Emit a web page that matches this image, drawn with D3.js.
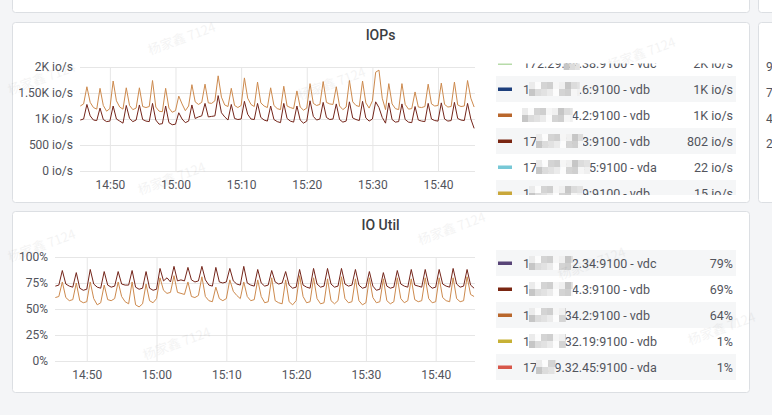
<!DOCTYPE html>
<html>
<head>
<meta charset="utf-8">
<script src="https://cdn.jsdelivr.net/npm/d3@7"></script>
<style>
    html, body { margin: 0; padding: 0; background: #f4f5f7; }
    svg { display: block; font-family: Roboto, "Noto Sans", sans-serif; }
</style>
</head>
<body>
<svg id="chart" width="772" height="415"></svg>
<script>

// dati: un punto ogni 30 secondi a partire dalle 14:45:30
const startTime = new Date(2024, 0, 1, 14, 45, 30);
const stepSec = 30;

const iopsOrange = [
    1250, 1290, 1620, 1320, 1220, 1190, 1590, 1260, 1150, 1200,
    1730, 1350, 1230, 1190, 1600, 1260, 1180, 1210, 1600, 1240,
    1220, 1240, 1740, 1230, 1150, 1140, 1590, 1210, 1130, 1160,
    1440, 1290, 1160, 1250, 1660, 1330, 1280, 1320, 1670, 1310,
    1300, 1350, 1830, 1420, 1270, 1240, 1590, 1260, 1220, 1260,
    1790, 1400, 1280, 1240, 1710, 1310, 1250, 1220, 1600, 1260,
    1200, 1180, 1630, 1250, 1220, 1200, 1540, 1230, 1170, 1210,
    1680, 1300, 1260, 1280, 1720, 1320, 1290, 1280, 1620, 1250,
    1180, 1230, 1740, 1330, 1260, 1240, 1730, 1310, 1210, 1350,
    1900, 1940, 1400, 1180, 1680, 1290, 1200, 1180, 1680, 1280,
    1190, 1200, 1520, 1230, 1220, 1240, 1670, 1290, 1250, 1260,
    1690, 1280, 1230, 1240, 1710, 1270, 1240, 1250, 1740, 1400,
    1230
];

const iopsRed = [
    980, 1000, 1280, 1060, 980, 970, 1210, 990, 950, 960,
    1250, 1000, 960, 920, 1260, 1010, 950, 980, 1270, 990,
    960, 950, 1300, 980, 900, 910, 1250, 930, 890, 900,
    1120, 1000, 930, 960, 1270, 1010, 1040, 1060, 1300, 1040,
    1050, 1060, 1450, 1120, 1040, 980, 1280, 1010, 990, 1000,
    1340, 1090, 1000, 990, 1300, 1030, 980, 960, 1250, 990,
    950, 930, 1300, 1010, 960, 940, 1250, 980, 920, 960,
    1350, 1050, 980, 1000, 1320, 1030, 990, 1000, 1290, 990,
    940, 960, 1330, 1020, 990, 970, 1340, 1020, 960, 1000,
    1330, 1220, 1030, 920, 1310, 990, 940, 950, 1290, 990,
    940, 930, 1240, 980, 960, 950, 1300, 1000, 970, 960,
    1310, 1000, 960, 970, 1320, 1010, 980, 970, 1300, 1000,
    820
];

const utilRed = [
    72, 73, 87, 74, 72, 71, 85, 70, 68, 69,
    88, 74, 71, 70, 86, 73, 71, 72, 86, 74,
    73, 73, 87, 71, 69, 70, 86, 70, 68, 69,
    89, 77, 80, 76, 91, 77, 78, 77, 90, 78,
    76, 77, 91, 78, 73, 72, 90, 76, 75, 76,
    89, 77, 74, 73, 91, 75, 73, 72, 88, 75,
    72, 73, 87, 76, 74, 75, 86, 73, 70, 71,
    88, 73, 71, 70, 89, 74, 71, 72, 89, 74,
    71, 72, 89, 74, 72, 73, 88, 73, 70, 71,
    86, 72, 68, 69, 85, 72, 70, 71, 87, 74,
    72, 71, 88, 73, 72, 71, 88, 73, 70, 71,
    88, 74, 72, 71, 89, 74, 71, 72, 88, 73,
    70
];

const utilOrange = [
    61, 62, 76, 61, 58, 59, 75, 58, 56, 57,
    76, 60, 54, 56, 73, 59, 58, 60, 76, 62,
    57, 55, 76, 54, 52, 55, 74, 58, 56, 60,
    80, 68, 65, 66, 82, 66, 65, 64, 76, 62,
    61, 63, 81, 62, 58, 57, 71, 60, 58, 60,
    78, 67, 63, 60, 76, 62, 58, 59, 78, 62,
    56, 57, 80, 58, 56, 55, 78, 57, 54, 58,
    82, 62, 56, 57, 80, 60, 55, 56, 79, 58,
    55, 58, 81, 60, 56, 57, 79, 58, 54, 56,
    80, 61, 56, 57, 79, 58, 55, 57, 80, 60,
    56, 58, 79, 59, 57, 58, 80, 60, 56, 57,
    80, 61, 58, 57, 80, 60, 57, 58, 81, 64,
    62
];

const iopsTicks = [0, 500, 1000, 1500, 2000];
const iopsTickLabels = ["0 io/s", "500 io/s", "1K io/s", "1.50K io/s", "2K io/s"];
const utilTicks = [0, 25, 50, 75, 100];
const utilTickLabels = ["0%", "25%", "50%", "75%", "100%"];

// legenda IOPs
const iopsLegendNames = [
    "172.29.64.38:9100 - vdc",
    "172.29.32.6:9100 - vdb",
    "172.29.34.2:9100 - vdb",
    "172.29.34.3:9100 - vdb",
    "172.29.32.45:9100 - vda",
    "172.29.32.9:9100 - vdb"
];
const iopsLegendValues = ["2K io/s", "1K io/s", "1K io/s", "802 io/s", "22 io/s", "15 io/s"];
const iopsLegendColors = ["#b7dba9", "#1d3f7c", "#b9672c", "#7a2612", "#77c8d6", "#c9a73a"];
const iopsHidden = [[7, 9], [1, 9], [0, 8], [2, 10], [2, 11], [1, 10]];

// legenda IO Util
const utilLegendNames = [
    "172.29.32.34:9100 - vdc",
    "172.29.34.3:9100 - vdb",
    "172.29.34.2:9100 - vdb",
    "172.29.32.19:9100 - vdb",
    "172.29.32.45:9100 - vda"
];
const utilLegendValues = ["79%", "69%", "64%", "1%", "1%"];
const utilLegendColors = ["#584477", "#7a2612", "#b9672c", "#c7b135", "#d7574a"];
const utilHidden = [[1, 8], [1, 8], [1, 7], [1, 7], [2, 5]];

const lineOrange = "#cd8a4e";
const lineRed = "#74251a";

let svg = d3.select("#chart");
let textColor = "#52545c";

// pannelli di sfondo (anche quelli tagliati ai bordi)
function panelBox(x, y, w, h) {
    svg.append("rect")
        .attr("x", x + 0.5).attr("y", y + 0.5)
        .attr("width", w).attr("height", h)
        .attr("rx", 3)
        .attr("fill", "#ffffff")
        .attr("stroke", "#dcdfe3");
}
panelBox(12, -20, 737, 32);
panelBox(758, -20, 40, 32);
panelBox(12, 22, 737, 180);
panelBox(758, 22, 40, 180);
panelBox(12, 211, 737, 181);

// etichette del pannello a destra (tagliato dal bordo della finestra, come nell'originale)
["9", "7", "4", "2"].forEach((t, i) => {
    svg.append("text")
        .attr("x", 766).attr("y", 71 + i * 25.8)
        .attr("fill", textColor)
        .style("font-size", "12px")
        .text(t);
});

let domain = [new Date(2024, 0, 1, 14, 45, 27), new Date(2024, 0, 1, 15, 45, 38)];

// Funzione per disegnare un pannello con grafico e legenda
function drawPanel(cfg) {
    let g = svg.append("g");

    g.append("text")
        .attr("x", 380.5).attr("y", cfg.titleY)
        .attr("text-anchor", "middle")
        .attr("fill", "#3b3d42")
        .style("font-size", "14px")
        .style("font-weight", 500)
        .text(cfg.title);

    let x = d3.scaleTime().domain(domain).range([cfg.x0, cfg.x1]);
    let y = d3.scaleLinear().domain([cfg.ticks[0], cfg.ticks[cfg.ticks.length - 1]]).range([cfg.y0, cfg.y1]);

    // griglia orizzontale + etichette asse y
    let yAxis = d3.axisLeft(y)
        .tickValues(cfg.ticks)
        .tickFormat((d, i) => cfg.tickLabels[i])
        .tickSize(-(cfg.x1 - cfg.x0))
        .tickPadding(7);
    let yg = g.append("g").attr("transform", `translate(${cfg.x0},0)`).call(yAxis);
    yg.select(".domain").remove();
    yg.selectAll("line").attr("stroke", "#e6e6e6");
    yg.selectAll("text").attr("fill", textColor).style("font-size", "12px").style("font-family", "Roboto");

    // griglia verticale + etichette asse x
    let xAxis = d3.axisBottom(x)
        .ticks(d3.timeMinute.every(10))
        .tickFormat(d3.timeFormat("%H:%M"))
        .tickSize(-(cfg.y0 - cfg.y1))
        .tickPadding(9);
    let xg = g.append("g").attr("transform", `translate(0,${cfg.y0})`).call(xAxis);
    xg.select(".domain").remove();
    xg.selectAll("line").attr("stroke", "#e6e6e6");
    xg.selectAll("text").attr("fill", textColor).style("font-size", "12px").style("font-family", "Roboto");

    let clipId = "clip-" + cfg.title.replace(/\s/g, "");
    svg.append("clipPath").attr("id", clipId)
        .append("rect")
        .attr("x", cfg.x0).attr("y", cfg.y1 - 5)
        .attr("width", cfg.x1 - cfg.x0).attr("height", cfg.y0 - cfg.y1 + 5);

    let line = d3.line()
        .x((d, i) => x(new Date(startTime.getTime() + i * stepSec * 1000)))
        .y((d) => y(d));

    cfg.series.forEach((s) => {
        g.append("path")
            .datum(s.values)
            .attr("clip-path", `url(#${clipId})`)
            .attr("fill", "none")
            .attr("stroke", s.color)
            .attr("stroke-width", 1)
            .attr("stroke-linejoin", "round")
            .attr("d", line);
    });

    // legenda
    let legClip = clipId + "-leg";
    svg.append("clipPath").attr("id", legClip)
        .append("rect")
        .attr("x", 490).attr("y", cfg.legTop)
        .attr("width", 250).attr("height", cfg.legBottom - cfg.legTop);
    let leg = g.append("g").attr("clip-path", `url(#${legClip})`);

    cfg.legNames.forEach((name, i) => {
        let cy = cfg.legFirst + i * 26;
        if (i % 2 === cfg.shadeOdd) {
            leg.append("rect")
                .attr("x", 496).attr("y", cy - 13)
                .attr("width", 240).attr("height", 26)
                .attr("fill", "#f5f6f7");
        }
        leg.append("rect")
            .attr("x", 498).attr("y", cy - 1.5)
            .attr("width", 14).attr("height", 3.5)
            .attr("fill", cfg.legColors[i]);
        let t = leg.append("text")
            .attr("x", 523).attr("y", cy + 4.5)
            .attr("fill", textColor)
            .style("font-size", "12.5px")
            .text(name);
        leg.append("text")
            .attr("x", 733).attr("y", cy + 4.5)
            .attr("text-anchor", "end")
            .attr("fill", textColor)
            .style("font-size", "12.5px")
            .text(cfg.legValues[i]);
        pixelate(leg, t.node(), cfg.hidden[i][0], cfg.hidden[i][1], cy);
    });
}

// mosaico sopra la parte nascosta dell'indirizzo
function pixelate(g, node, from, to, cy) {
    let xs = node.getStartPositionOfChar(from).x - 1;
    let xe = node.getEndPositionOfChar(to - 1).x + 1;
    let shades = ["#ebebeb", "#d4d4d4", "#f6f6f6", "#c6c6c6", "#e2e2e2", "#fcfcfc", "#cfcfcf", "#f0f0f0", "#dcdcdc"];
    let n = 0;
    for (let px = xs; px < xe; px += 6) {
        for (let r = 0; r < 2; r++) {
            g.append("rect")
                .attr("x", px).attr("y", cy - 7 + r * 7)
                .attr("width", Math.min(6, xe - px)).attr("height", 7)
                .attr("fill", shades[(n * 5 + r * 3) % shades.length]);
        }
        n++;
    }
}

drawPanel({
    title: "IOPs", titleY: 40,
    x0: 80, x1: 475, y0: 171, y1: 67,
    ticks: iopsTicks, tickLabels: iopsTickLabels,
    series: [
        { values: iopsOrange, color: lineOrange },
        { values: iopsRed, color: lineRed }
    ],
    legNames: iopsLegendNames, legValues: iopsLegendValues,
    legColors: iopsLegendColors, hidden: iopsHidden,
    legFirst: 63, legTop: 63.5, legBottom: 195, shadeOdd: 1
});

drawPanel({
    title: "IO Util", titleY: 230,
    x0: 55, x1: 475, y0: 361, y1: 257,
    ticks: utilTicks, tickLabels: utilTickLabels,
    series: [
        { values: utilRed, color: lineRed },
        { values: utilOrange, color: lineOrange }
    ],
    legNames: utilLegendNames, legValues: utilLegendValues,
    legColors: utilLegendColors, hidden: utilHidden,
    legFirst: 263, legTop: 248, legBottom: 382, shadeOdd: 0
});

// filigrana leggera
const watermarks = [[150, 55], [10, 95], [300, 100], [140, 195], [10, 262], [420, 245], [145, 360], [610, 70], [690, 345], [560, 280]];
watermarks.forEach((p) => {
    svg.append("text")
        .attr("transform", `translate(${p[0]},${p[1]}) rotate(-20)`)
        .attr("fill", "#000")
        .attr("opacity", 0.045)
        .style("font-size", "13px")
        .style("font-family", "'Noto Sans CJK SC'")
        .text("杨家鑫 7124");
});

</script>
</body>
</html>
